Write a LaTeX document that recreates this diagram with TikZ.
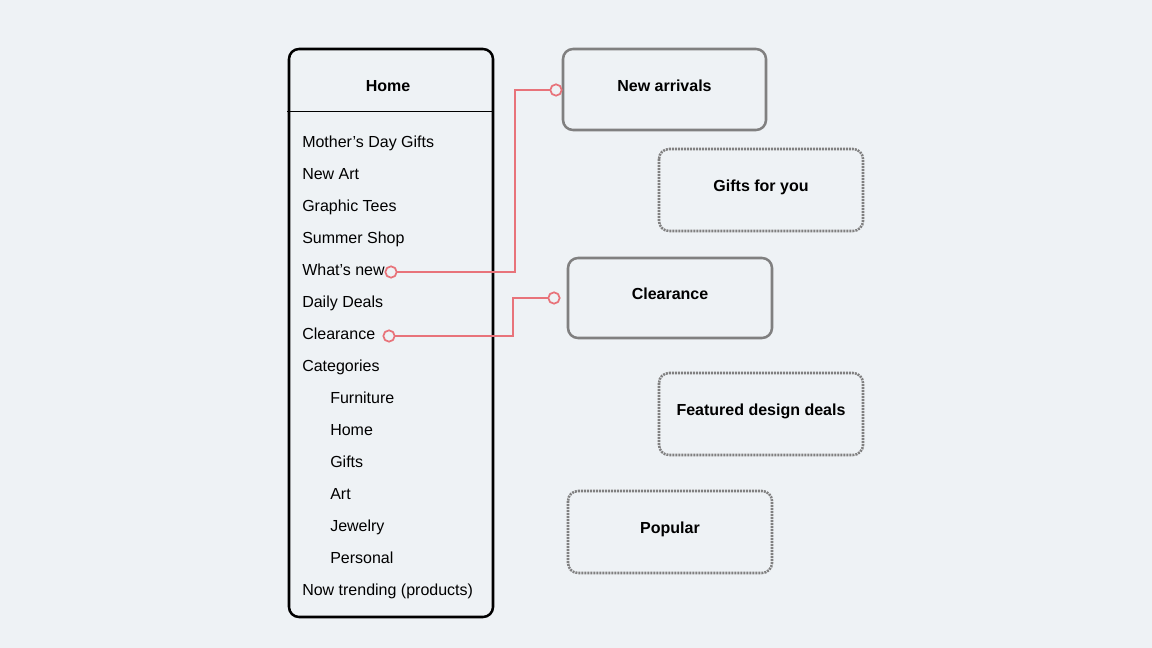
\documentclass[tikz,border=0pt]{standalone}
\usepackage{fontspec}
\setmainfont{Liberation Sans}
\definecolor{bg}{HTML}{EEF2F5}
\definecolor{boxgray}{HTML}{808080}
\definecolor{linkred}{HTML}{E8737A}
\begin{document}
\begin{tikzpicture}[x=0.75pt,y=-0.75pt,
  item/.style={anchor=west,inner sep=0pt,text height=9pt,text depth=1pt,font=\fontsize{12}{14}\selectfont},
  title/.style={font=\fontsize{12}{14}\selectfont\bfseries,text height=9pt,text depth=1pt},
  solidbox/.style={draw=boxgray,line width=1.9pt,rounded corners=7.5pt,fill=none},
  dotbox/.style={draw=boxgray,line width=1.9pt,rounded corners=7.5pt,dash pattern=on 1.5pt off 0.75pt},
  link/.style={draw=linkred,line width=1.3pt},
  endpt/.style={circle,draw=linkred,line width=1.3pt,fill=bg,minimum size=8.5pt,inner sep=0pt}]
\fill[bg] (0,0) rectangle (1152,648);
\useasboundingbox (0,0) rectangle (1152,648);
% Home panel
\draw[line width=1.9pt,rounded corners=7.5pt] (289,49) rectangle (493,617);
\node[title] (home) at (388,86) {Home};
\draw[line width=0.75pt] (287,112) -- (493,112);
\node[item] (i1) at (302,142) {Mother’s Day Gifts};
\node[item] (i2) at (302,174) {New Art};
\node[item] (i3) at (302,206) {Graphic Tees};
\node[item] (i4) at (302,238) {Summer Shop};
\node[item] (i5) at (302,270) {What’s new};
\node[item] (i6) at (302,302) {Daily Deals};
\node[item] (i7) at (302,334) {Clearance};
\node[item] (i8) at (302,366) {Categories};
\node[item] (i9) at (330,398) {Furniture};
\node[item] (i10) at (330,430) {Home};
\node[item] (i11) at (330,462) {Gifts};
\node[item] (i12) at (330,494) {Art};
\node[item] (i13) at (330,526) {Jewelry};
\node[item] (i14) at (330,558) {Personal};
\node[item] (i15) at (302,590) {Now trending (products)};
% right boxes
\draw[solidbox] (563,49) rectangle (766,130);
\node[title] (na) at (664.5,86) {New arrivals};
\draw[dotbox] (659,149) rectangle (863,231);
\node[title] (gf) at (761,186) {Gifts for you};
\draw[solidbox] (568,258) rectangle (772,338);
\node[title] (cl) at (670,294) {Clearance};
\draw[dotbox] (659,373) rectangle (863,455);
\node[title] (fd) at (761,410) {Featured design deals};
\draw[dotbox] (568,491) rectangle (772,573);
\node[title] (po) at (670,528) {Popular};
% connectors
\coordinate (wnA) at (391,272);
\coordinate (wnB) at (556,90);
\coordinate (clA) at (389,336);
\coordinate (clB) at (554,298);
\draw[link] (wnA) -- (515,272) -- (515,90) -- (wnB);
\draw[link] (clA) -- (513,336) -- (513,298) -- (clB);
\node[endpt] (c1) at (wnA) {};
\node[endpt] (c2) at (wnB) {};
\node[endpt] (c3) at (clA) {};
\node[endpt] (c4) at (clB) {};
\end{tikzpicture}
\end{document}
